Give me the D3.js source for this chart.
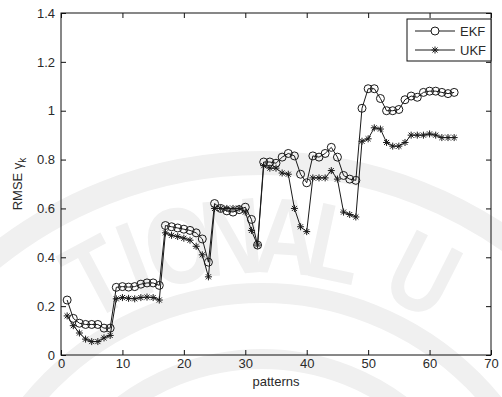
<!DOCTYPE html>
<html>
<head>
<meta charset="utf-8">
<script src="https://cdn.jsdelivr.net/npm/d3@7"></script>
<style>
  html, body { margin: 0; padding: 0; background: #fff; }
  svg text { font-family: "Liberation Sans", Arial, sans-serif; }
</style>
</head>
<body>
<svg id="chart" width="502" height="397"></svg>
<script>
// patterns 1..64
const patterns = d3.range(1, 65);

const ekf = [
  0.225, 0.15, 0.13, 0.125, 0.125, 0.125, 0.11, 0.11,
  0.277, 0.28, 0.278, 0.28, 0.29, 0.295, 0.295, 0.285,
  0.53, 0.525, 0.52, 0.515, 0.51, 0.50, 0.475, 0.38,
  0.62, 0.60, 0.59, 0.585, 0.595, 0.605, 0.555, 0.45,
  0.79, 0.79, 0.785, 0.81, 0.825, 0.815, 0.74, 0.705,
  0.815, 0.81, 0.825, 0.85, 0.81, 0.735, 0.72, 0.715,
  1.01, 1.09, 1.09, 1.05, 1.0, 1.0, 1.005, 1.045,
  1.06, 1.055, 1.075, 1.08, 1.08, 1.075, 1.07, 1.075
];

const ukf = [
  0.16, 0.12, 0.09, 0.065, 0.055, 0.055, 0.07, 0.08,
  0.23, 0.235, 0.232, 0.23, 0.235, 0.237, 0.235, 0.225,
  0.50, 0.49, 0.485, 0.478, 0.47, 0.445, 0.41, 0.32,
  0.60, 0.60, 0.60, 0.60, 0.60, 0.585, 0.51, 0.45,
  0.775, 0.765, 0.765, 0.745, 0.74, 0.60, 0.525, 0.505,
  0.725, 0.725, 0.725, 0.755, 0.72, 0.585, 0.575, 0.565,
  0.875, 0.885, 0.93, 0.925, 0.87, 0.855, 0.855, 0.87,
  0.90, 0.90, 0.90, 0.905, 0.90, 0.89, 0.89, 0.89
];

const xTicks = [0, 10, 20, 30, 40, 50, 60, 70];
const yTicks = [0, 0.2, 0.4, 0.6, 0.8, 1, 1.2, 1.4];
const seriesNames = ["EKF", "UKF"];

const margin = {left: 61, top: 13, right: 11, bottom: 42};
const W = 502, H = 397;
const width = W - margin.left - margin.right;
const height = H - margin.top - margin.bottom;

const svg = d3.select("#chart");

// faint watermark in the background
const wm = svg.append("g").attr("fill", "none").attr("stroke", "#f0f0f0");
const cx = 262, cy = 591;
wm.append("circle").attr("cx", cx).attr("cy", cy).attr("r", 428).attr("stroke-width", 24);
wm.append("circle").attr("cx", cx).attr("cy", cy).attr("r", 298).attr("stroke-width", 20);
wm.append("circle").attr("cx", cx).attr("cy", cy).attr("r", 232).attr("stroke-width", 20);
const wmLetters = [["T", -28], ["I", -21], ["O", -13.5], ["N", -5], ["A", 4], ["L", 12], ["U", 27]];
wm.selectAll("text.wm")
  .data(wmLetters)
  .enter()
  .append("text")
  .attr("class", "wm")
  .attr("transform", d => "translate(" + cx + "," + cy + ") rotate(" + d[1] + ") translate(0,-318) scale(0.8,1)")
  .attr("text-anchor", "middle")
  .attr("stroke", "none")
  .attr("fill", "#f0f0f0")
  .style("font-size", "108px")
  .style("font-weight", "bold")
  .text(d => d[0]);

const x = d3.scaleLinear().domain([0, 70]).range([margin.left, margin.left + width]);
const y = d3.scaleLinear().domain([0, 1.4]).range([margin.top + height, margin.top]);

const fmt = d => (d === 0 || d === 1) ? String(d) : d3.format(".1f")(d);

// axes (ticks inward, on all four sides)
const axisColor = "#111";
function styleAxis(g) {
  g.select(".domain").remove();
  g.selectAll(".tick line").attr("stroke", axisColor);
  g.selectAll(".tick text").attr("fill", "#2a2a2a").style("font-size", "13px").style("font-family", "'Liberation Sans', Arial, sans-serif");
}

svg.append("g")
  .attr("transform", "translate(0," + (margin.top + height) + ")")
  .call(d3.axisBottom(x).tickValues(xTicks).tickSize(-5).tickPadding(4).tickFormat(d3.format("d")))
  .call(styleAxis);

svg.append("g")
  .attr("transform", "translate(0," + margin.top + ")")
  .call(d3.axisTop(x).tickValues(xTicks).tickSize(-5).tickFormat(""))
  .call(styleAxis);

svg.append("g")
  .attr("transform", "translate(" + margin.left + ",0)")
  .call(d3.axisLeft(y).tickValues(yTicks).tickSize(-5).tickPadding(6).tickFormat(fmt))
  .call(styleAxis);

svg.append("g")
  .attr("transform", "translate(" + (margin.left + width) + ",0)")
  .call(d3.axisRight(y).tickValues(yTicks).tickSize(-5).tickFormat(""))
  .call(styleAxis);

svg.append("rect")
  .attr("x", margin.left).attr("y", margin.top)
  .attr("width", width).attr("height", height)
  .attr("fill", "none").attr("stroke", axisColor).attr("stroke-width", 1);

// axis titles
svg.append("text")
  .attr("x", margin.left + width / 2)
  .attr("y", 386)
  .attr("text-anchor", "middle")
  .attr("fill", "#2a2a2a")
  .style("font-size", "13px")
  .text("patterns");

const yl = svg.append("text")
  .attr("transform", "translate(22," + (margin.top + height / 2) + ") rotate(-90)")
  .attr("text-anchor", "middle")
  .attr("fill", "#2a2a2a")
  .style("font-size", "13px");
yl.append("tspan").text("RMSE \u03B3");
yl.append("tspan").attr("dy", 4).style("font-size", "10px").text("k");

// series
const lineColor = "#1a1a1a";
const line = d3.line().x((d, i) => x(patterns[i])).y(d => y(d));

const star = s => {
  const d = s * 0.72;
  return "M" + (-s) + ",0h" + (2 * s) + "M0," + (-s) + "v" + (2 * s) +
    "M" + (-d) + "," + (-d) + "l" + (2 * d) + "," + (2 * d) +
    "M" + (-d) + "," + d + "l" + (2 * d) + "," + (-2 * d);
};

const plot = svg.append("g");

plot.append("path").datum(ekf).attr("d", line)
  .attr("fill", "none").attr("stroke", lineColor).attr("stroke-width", 1);
plot.append("path").datum(ukf).attr("d", line)
  .attr("fill", "none").attr("stroke", lineColor).attr("stroke-width", 1);

plot.selectAll("circle.ekf")
  .data(ekf)
  .enter()
  .append("circle")
  .attr("class", "ekf")
  .attr("cx", (d, i) => x(patterns[i]))
  .attr("cy", d => y(d))
  .attr("r", 4)
  .attr("fill", "none")
  .attr("stroke", lineColor)
  .attr("stroke-width", 1);

plot.selectAll("path.ukf")
  .data(ukf)
  .enter()
  .append("path")
  .attr("class", "ukf")
  .attr("transform", (d, i) => "translate(" + x(patterns[i]) + "," + y(d) + ")")
  .attr("d", star(3.5))
  .attr("fill", "none")
  .attr("stroke", lineColor)
  .attr("stroke-width", 1);

// legend
const lg = svg.append("g");
lg.append("rect")
  .attr("x", 407).attr("y", 19).attr("width", 84).attr("height", 42)
  .attr("fill", "#fff").attr("stroke", axisColor).attr("stroke-width", 1);

seriesNames.forEach((name, i) => {
  const ly = 31 + i * 19;
  lg.append("line").attr("x1", 415).attr("x2", 455).attr("y1", ly).attr("y2", ly)
    .attr("stroke", lineColor).attr("stroke-width", 1);
  if (i === 0) {
    lg.append("circle").attr("cx", 435).attr("cy", ly).attr("r", 4)
      .attr("fill", "#fff").attr("stroke", lineColor);
  } else {
    lg.append("path").attr("transform", "translate(435," + ly + ")").attr("d", star(3.5))
      .attr("fill", "none").attr("stroke", lineColor);
  }
  lg.append("text").attr("x", 460).attr("y", ly).attr("dy", "0.35em")
    .attr("fill", "#2a2a2a").style("font-size", "13px").text(name);
});
</script>
</body>
</html>
